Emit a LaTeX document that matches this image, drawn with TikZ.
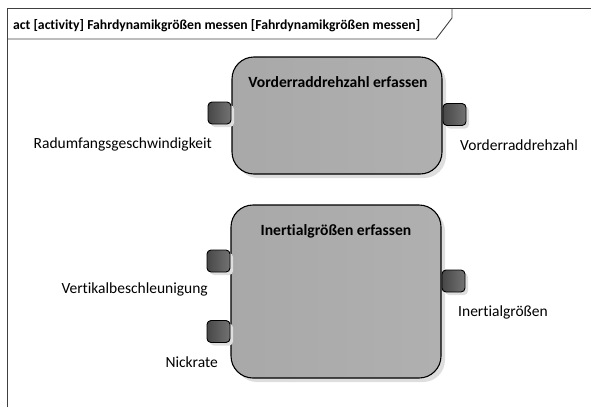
\documentclass[tikz,border=0pt]{standalone}
\usepackage{fontspec}
\setmainfont{Carlito}[Ligatures=NoCommon]
\usetikzlibrary{positioning,shadows}

\begin{document}
\begin{tikzpicture}[
  x=1pt, y=-1pt,
  every node/.style={font=\fontsize{15.5}{18}\selectfont, inner sep=0pt},
  frameline/.style={draw=black!75, line width=0.9pt},
  action/.style={draw, line width=1.1pt, rounded corners=22pt, minimum width=210pt,
    left color=black!34, middle color=black!23, right color=black!31,
    drop shadow={shadow xshift=4pt, shadow yshift=-4pt, fill=black!13, opacity=1}},
  pin/.style={draw, line width=0.9pt, rounded corners=4pt, minimum width=23pt, minimum height=22pt,
    left color=black!72, right color=black!55,
    drop shadow={shadow xshift=3pt, shadow yshift=-3pt, fill=black!13, opacity=1}},
  title/.style={font=\fontsize{15.6}{18}\selectfont\bfseries},
  hdrtext/.style={font=\fontsize{13.7}{16}\selectfont\bfseries},
  lbl/.style={}
]
\useasboundingbox (0,0) rectangle (591,407);

% frame and header
\draw[frameline] (7,407) -- (7,8) -- (591,8);
\draw[frameline] (7,39) -- (436,39) -- (452,18) -- (452,8);
\node[hdrtext, anchor=base west] (hdr) at (13,29) {act [activity] Fahrdynamikgrößen messen [Fahrdynamikgrößen messen]};

% actions
\node[action, minimum height=117pt] (vrd) at (337,115.5) {};
\node[action, minimum height=173pt] (ing) at (336,291.5) {};
\node[title, anchor=base] (vrdt) at (338,87) {Vorderraddrehzahl erfassen};
\node[title, anchor=base] (ingt) at (336,235) {Inertialgrößen erfassen};

% pins
\node[pin, anchor=east] (p1l) at (vrd.west |- 0,113) {};
\node[pin, anchor=west] (p1r) at (vrd.east |- 0,114.5) {};
\node[pin, anchor=east] (p2l) at (ing.west |- 0,261) {};
\node[pin, anchor=east] (p3l) at (ing.west |- 0,331.5) {};
\node[pin, anchor=west] (p2r) at (ing.east |- 0,281) {};

% pin labels
\node[lbl, anchor=base east] (l1l) at (212,148) {Radumfangsgeschwindigkeit};
\node[lbl, anchor=base west] (l1r) at (460,150) {Vorderraddrehzahl};
\node[lbl, anchor=base east] (l2l) at (208,293) {Vertikalbeschleunigung};
\node[lbl, anchor=base east] (l3l) at (218,367) {Nickrate};
\node[lbl, anchor=base west] (l2r) at (458,316) {Inertialgrößen};

\end{tikzpicture}
\end{document}
